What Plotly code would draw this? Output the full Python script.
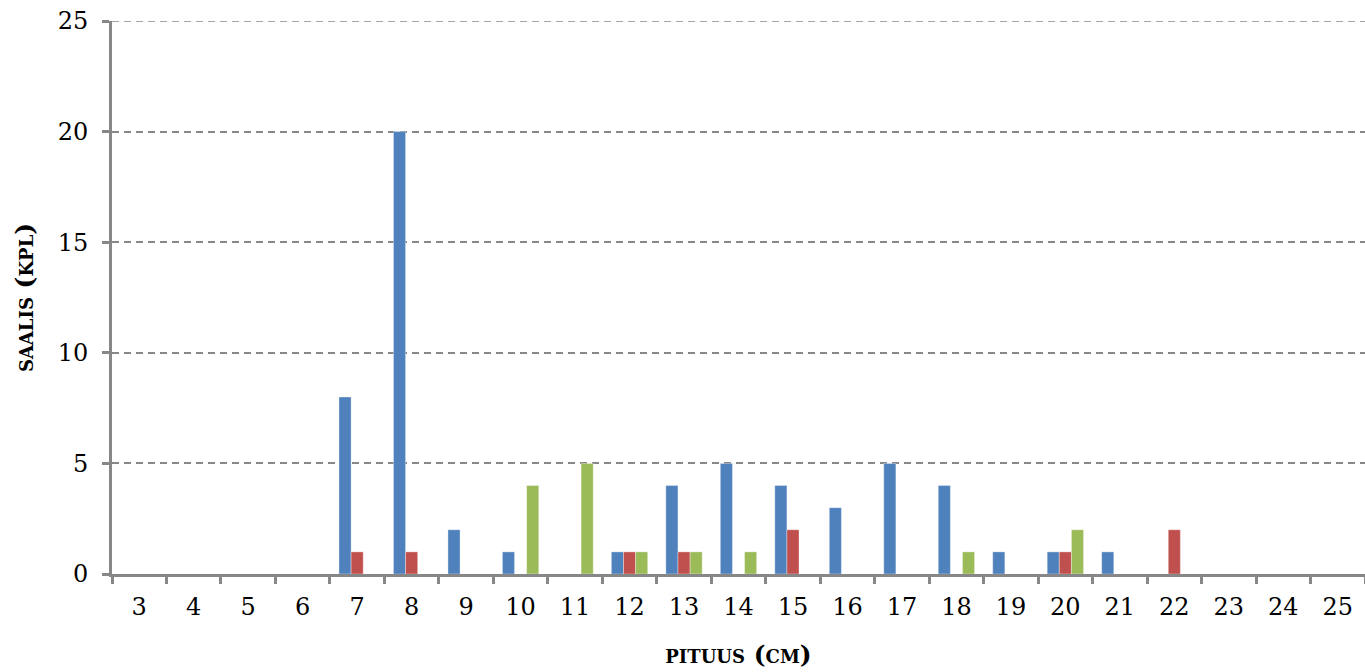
import plotly.graph_objects as go

# Length classes (cm) and catch counts for three series
pituus = [str(v) for v in range(3, 26)]
sarja_1 = [0, 0, 0, 0, 8, 20, 2, 1, 0, 1, 4, 5, 4, 3, 5, 4, 1, 1, 1, 0, 0, 0, 0]
sarja_2 = [0, 0, 0, 0, 1, 1, 0, 0, 0, 1, 1, 0, 2, 0, 0, 0, 0, 1, 0, 2, 0, 0, 0]
sarja_3 = [0, 0, 0, 0, 0, 0, 0, 4, 5, 1, 1, 1, 0, 0, 0, 1, 0, 2, 0, 0, 0, 0, 0]
y_ticks = [0, 5, 10, 15, 20, 25]

colors = ["#4F81BD", "#C0504D", "#9BBB59"]
serif = "DejaVu Serif, Liberation Serif, serif"
axis_grey = "#878787"

fig = go.Figure()
for name, vals, col in zip(["Sarja 1", "Sarja 2", "Sarja 3"],
                           [sarja_1, sarja_2, sarja_3], colors):
    fig.add_trace(go.Bar(
        x=pituus, y=vals, name=name,
        marker=dict(color=col, line=dict(color="rgba(255,255,255,0.35)", width=1)),
    ))

# top gridline at the axis maximum (plotly skips grid lines on the plot edge)
fig.add_shape(type="line", xref="paper", yref="y", x0=0, x1=1,
              y0=y_ticks[-1], y1=y_ticks[-1], layer="below",
              line=dict(color=axis_grey, width=1.5, dash="7px,5px"))

fig.update_layout(
    width=1365, height=672,
    margin=dict(l=112, r=0, t=21, b=98),
    paper_bgcolor="white", plot_bgcolor="white",
    barmode="group", bargap=0.333, bargroupgap=0,
    showlegend=False,
    font=dict(family=serif, size=24, color="#000000"),
    xaxis=dict(
        type="category",
        showline=True, linecolor=axis_grey, linewidth=3,
        ticks="outside", tickson="boundaries", ticklen=7, tickwidth=3, tickcolor=axis_grey,
        showgrid=False,
        tickfont=dict(family=serif, size=24),
        ticklabelstandoff=9,
        title=dict(text="<b>pituus (cm)</b>", standoff=26,
                   font=dict(family=serif, size=25, variant="small-caps")),
    ),
    yaxis=dict(
        range=[0, y_ticks[-1]], tickvals=y_ticks,
        showline=True, linecolor=axis_grey, linewidth=3,
        ticks="outside", ticklen=7, tickwidth=3, tickcolor=axis_grey,
        showgrid=True, gridcolor=axis_grey, gridwidth=1.5, griddash="7px,5px",
        zeroline=False,
        tickfont=dict(family=serif, size=24),
        ticklabelstandoff=9,
        title=dict(text="<b>saalis (kpl)</b>", standoff=17,
                   font=dict(family=serif, size=25, variant="small-caps")),
    ),
)

fig.write_html("out.html")
